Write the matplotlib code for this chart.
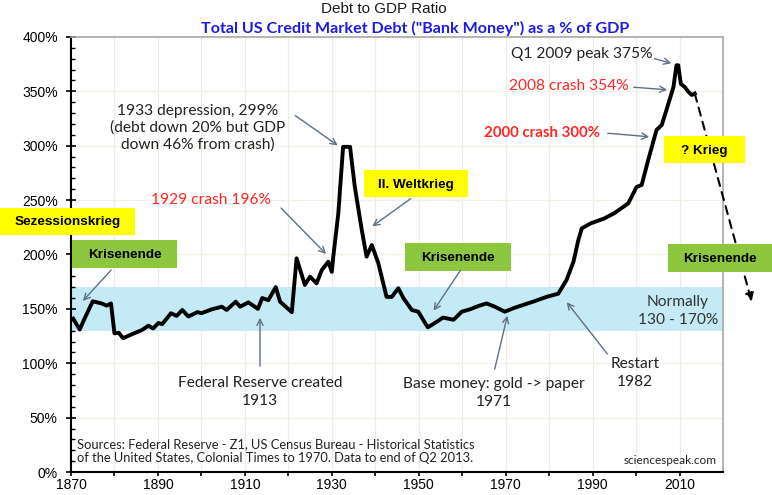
import matplotlib
matplotlib.use("Agg")
import matplotlib.pyplot as plt
from matplotlib.patches import Rectangle, FancyArrowPatch

# ---- data ----
years = [1870.5, 1872, 1873, 1875, 1877, 1878.2, 1879.2, 1880, 1881, 1882, 1883.6,
         1886.3, 1887.8, 1888.9, 1890.1, 1891, 1893, 1894.3, 1895.6, 1897, 1899.1,
         1900, 1902.4, 1904.7, 1905.8, 1907.9, 1908.9, 1910.8, 1913, 1914, 1915.4,
         1917.1, 1918.1, 1920.8, 1921.9, 1923.8, 1925, 1926.5, 1927.7, 1929.2, 1930,
         1930.3, 1931.5, 1932.6, 1934.2, 1935.3, 1936.9, 1938, 1939.2, 1940.7, 1942.6,
         1943.8, 1945.3, 1946.5, 1948.4, 1949.9, 1951, 1952.1, 1954.1, 1955.6, 1958,
         1959.9, 1961.8, 1963.7, 1965.6, 1967.5, 1969.8, 1971.7, 1974, 1976.3, 1979.4,
         1982.1, 1984, 1985.6, 1986.7, 1987.5, 1989.6, 1992.6, 1995, 1998.2, 2000.1,
         2001.3, 2002.8, 2004.7, 2005.9, 2007, 2008.6, 2009.3, 2009.7, 2010.3, 2011.2,
         2012, 2012.8, 2013.5]
debt_pct = [141, 131, 140, 157, 155, 153, 155, 127.5, 128, 123, 126,
            130.5, 134.5, 132, 137, 136, 146, 143.5, 149, 143, 147,
            146, 149.6, 152, 149, 156.6, 152, 156, 150, 160, 158,
            170, 156.6, 147, 196.5, 172, 179.6, 173.5, 185.7, 193.4, 184,
            196.5, 238, 299, 299, 262, 222.5, 198, 208.7, 192, 161,
            161, 169, 159.7, 149, 147.4, 140, 133, 138, 142, 140,
            147.4, 149.6, 152.6, 155, 152, 147.4, 150.5, 153.6, 156.6, 161,
            164, 176.5, 193.4, 213, 224, 228.7, 233, 238, 247, 262,
            264, 287, 314.5, 319, 333, 354, 374, 374, 357, 354,
            349.7, 346.7, 348]
proj_years = [2013.5, 2026.6]
proj_pct = [348, 156.6]
normal_band = [130, 170]
x_ticks = [1870, 1890, 1910, 1930, 1950, 1970, 1990, 2010]
y_ticks = [0, 50, 100, 150, 200, 250, 300, 350, 400]
y_labels = ["0%", "50%", "100%", "150%", "200%", "250%", "300%", "350%", "400%"]

W, H = 772, 495
fig = plt.figure(figsize=(W / 100, H / 100), dpi=100)
fig.patch.set_facecolor("white")

def P(x, y):
    return (x / W, 1 - y / H)

ax = fig.add_axes([71 / W, 1 - 472 / H, (723 - 71) / W, (472 - 37) / H])
ax.set_xlim(1870, 2020)
ax.set_ylim(0, 400)

# grid
for yr in range(1880, 2020, 10):
    ax.axvline(yr, color="#ededdf", lw=0.9, zorder=0)
for v in range(50, 400, 50):
    ax.axhline(v, color="#f0f0e6", lw=0.9, zorder=0)

ax.axhspan(normal_band[0], normal_band[1], color="#c4eaf5", zorder=0.5, lw=0)

ax.plot(years, debt_pct, color="black", lw=2.8, solid_joinstyle="round", zorder=3)

# projection
ax.annotate("", xy=(proj_years[1], proj_pct[1]), xytext=(proj_years[0], proj_pct[0]),
            xycoords="data", textcoords="data", annotation_clip=False,
            arrowprops=dict(arrowstyle="-|>", color="black", lw=1.5, ls=(0, (4, 3)),
                            mutation_scale=12, shrinkA=0, shrinkB=0), zorder=4)

# spines & ticks
for s in ["left", "bottom"]:
    ax.spines[s].set_color("black")
    ax.spines[s].set_linewidth(1.5)
for s in ["top", "right"]:
    ax.spines[s].set_color("#a8a8a8")
    ax.spines[s].set_linewidth(1.2)

tickfont = dict(family="Liberation Sans", size=10)
ax.set_xticks(x_ticks)
ax.set_xticklabels([str(t) for t in x_ticks], **tickfont)
ax.set_xticks(range(1880, 2020, 20), minor=True)
ax.set_yticks(y_ticks)
ax.set_yticklabels(y_labels, **tickfont)
ax.set_yticks(range(0, 400, 10), minor=True)
ax.tick_params(axis="x", which="both", direction="out", length=3, width=1.2, pad=1.5, color="black")
ax.tick_params(axis="y", which="major", direction="inout", length=7, width=1.2, pad=6, color="black")
ax.tick_params(axis="y", which="minor", direction="in", length=3, width=1, color="black")

# titles
fig.text(*P(384, 9), "Debt to GDP Ratio", ha="center", va="center",
         family="Liberation Sans", size=11, color="#1a1a1a")
fig.text(*P(415, 28), 'Total US Credit Market Debt ("Bank Money") as a % of GDP',
         ha="center", va="center", family="Lato", weight="bold", size=11.6, color="#1c1ce6")

ann = dict(family="Lato", size=11.2)
arrow_c = "#5f6f84"

def arrow(x0, y0, x1, y1):
    fig.add_artist(FancyArrowPatch(
        P(x0, y0), P(x1, y1), transform=fig.transFigure, arrowstyle="->",
        mutation_scale=11, color=arrow_c, lw=1.0, zorder=6))

def box(x0, y0, x1, y1, fc, label):
    fig.add_artist(Rectangle(P(x0, y1), (x1 - x0) / W, (y1 - y0) / H,
                             transform=fig.transFigure, facecolor=fc, edgecolor="none", zorder=5))
    fig.text(*P((x0 + x1) / 2, (y0 + y1) / 2 + 1), label, ha="center", va="center",
             family="Liberation Sans", weight="bold", size=9.7, color="black", zorder=6)

# texts
fig.text(*P(198, 128), "1933 depression, 299%\n(debt down 20% but GDP\ndown 46% from crash)",
         ha="center", va="center", color="#222222", linespacing=1.2, **ann)
arrow(293, 114, 340, 147)
fig.text(*P(211, 200), "1929 crash 196%", ha="center", va="center", color="#ff2626", **ann)
arrow(279, 206, 328, 256)
fig.text(*P(582, 54), "Q1 2009 peak 375%", ha="center", va="center", color="#222222", **ann)
arrow(652, 58, 674, 64)
fig.text(*P(569, 86), "2008 crash 354%", ha="center", va="center", color="#ff2626", **ann)
arrow(631, 87, 670, 90)
fig.text(*P(542, 133), "2000 crash 300%", ha="center", va="center", color="#ff2626",
         family="Lato", weight="bold", size=10.8)
arrow(605, 133, 652, 137)
fig.text(*P(678, 311), "Normally\n130 - 170%", ha="center", va="center", color="#333333",
         linespacing=1.3, **ann)
fig.text(*P(260, 392), "Federal Reserve created\n1913", ha="center", va="center",
         color="#222222", linespacing=1.3, **ann)
arrow(260, 369, 260, 315)
fig.text(*P(494, 393), "Base money: gold -> paper\n1971", ha="center", va="center",
         color="#222222", linespacing=1.3, **ann)
arrow(494, 372, 508, 313)
fig.text(*P(635, 373), "Restart\n1982", ha="center", va="center", color="#222222",
         linespacing=1.3, **ann)
arrow(609, 356, 565, 300)
fig.text(*P(77, 451), "Sources: Federal Reserve - Z1, US Census Bureau - Historical Statistics\n"
         "of the United States, Colonial Times to 1970. Data to end of Q2 2013.",
         ha="left", va="center", color="#222222", linespacing=1.25, family="Lato", size=9.3)
fig.text(*P(717, 461), "sciencespeak.com", ha="right", va="center", color="#222222",
         family="Lato", size=8.5)

# boxes
box(0, 208, 135, 235, "#ffff00", "Sezessionskrieg")
box(72, 240, 177, 268, "#8dc63f", "Krisenende")
arrow(113, 268, 81, 303)
box(364, 170, 468, 197, "#ffff00", "II. Weltkrieg")
arrow(413, 197, 370, 228)
box(405, 243, 511, 271, "#8dc63f", "Krisenende")
arrow(462, 268, 432, 313)
box(664, 136, 745, 163, "#ffff00", "? Krieg")
box(668, 244, 772, 272, "#8dc63f", "Krisenende")

fig.savefig("out.png", dpi=100)
